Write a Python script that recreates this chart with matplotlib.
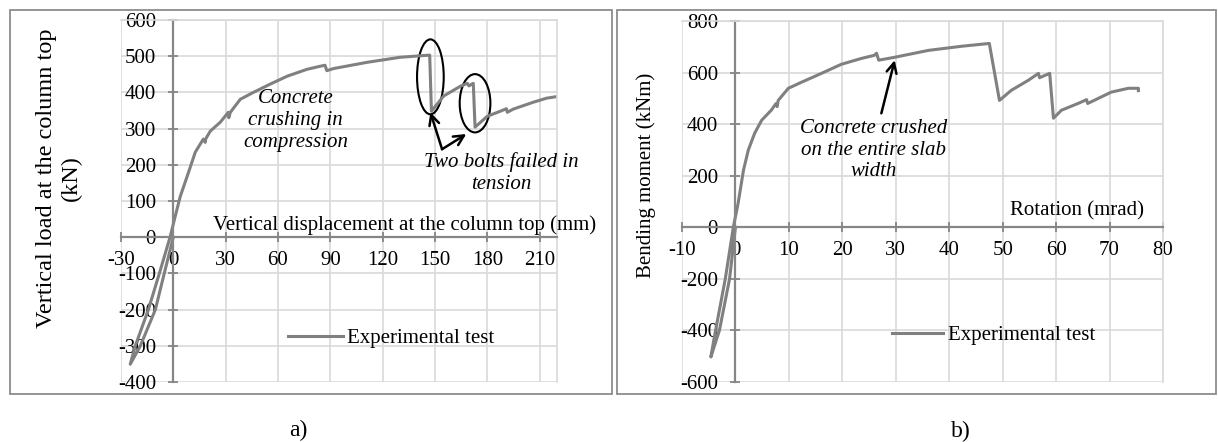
import matplotlib
matplotlib.use("Agg")
import matplotlib.pyplot as plt
from matplotlib.patches import Rectangle, Ellipse

plt.rcParams['font.family'] = ['Liberation Serif', 'DejaVu Serif']
plt.rcParams['axes.unicode_minus'] = False

# ---- data: a) vertical load vs vertical displacement ----
disp_mm = [0, -5.2, -10.3, -18.9, -24.7, -21.8, -14.3, -8.0, -1.7,
           1.1, 4.0, 8.0, 12.6, 17.2, 18.3, 18.6, 21.2, 27.0, 31.5, 31.8,
           32.7, 38.4, 45.9, 55.6, 65.4, 76.8, 84.0, 87.0, 88.0, 92.0,
           111.0, 130.0, 147.0, 148.0, 155.0, 164.6, 168.6, 169.5, 172.0,
           173.0, 180.0, 187.5, 191.0, 191.5, 195.0, 206.5, 214.0, 220.7, 221.0]
load_kN = [0, -100, -200, -300, -351, -300, -200, -100, 3,
           58, 113, 169, 235, 271, 262, 272, 293, 318, 345, 330,
           345, 381, 400, 423, 445, 464, 472, 475, 460, 466,
           483, 497, 503, 348, 390, 417, 425, 418, 425,
           304, 334, 348, 355, 345, 354, 373, 384, 389, 386]

# ---- data: b) bending moment vs rotation ----
rot_mrad = [0, -1.1, -3.0, -4.6, -3.9, -1.9, -0.4,
            0.5, 1.5, 2.4, 3.6, 4.9, 6.7, 7.6, 7.8, 8.0, 9.9, 12.3, 16.1,
            19.8, 23.6, 26.0, 26.4, 26.8, 29.7, 36.1, 42.3, 47.5, 49.4,
            51.6, 54.8, 56.7, 56.9, 58.8, 59.5, 61.0, 64.2, 65.7, 65.9,
            70.3, 73.5, 75.4, 75.4]
moment_kNm = [0, -200, -400, -503, -420, -200, 0,
              93, 221, 299, 365, 415, 454, 480, 468, 492, 539, 562, 597,
              632, 655, 667, 675, 648, 659, 686, 702, 713, 492,
              531, 570, 597, 580, 597, 423, 454, 481, 495, 480,
              524, 539, 539, 530]

series_label = "Experimental test"

W, H = 1218, 442
fig = plt.figure(figsize=(W / 100, H / 100), dpi=100)

# panel frames
for x0, x1 in [(10, 612), (617, 1216)]:
    fig.add_artist(Rectangle((x0 / W, 1 - 394 / H), (x1 - x0) / W, 384 / H,
                             transform=fig.transFigure, fill=False,
                             ec='#8c8c8c', lw=1.3))

ax1 = fig.add_axes([121 / W, 1 - 382 / H, 436 / W, 362 / H])
ax2 = fig.add_axes([682 / W, 1 - 382 / H, 481 / W, 361 / H])

line_col = '#808080'
axis_col = '#868686'
grid_col = '#d9d9d9'
FS = 15


def style(ax, xlim, ylim, xticks, yticks):
    ax.set_xlim(*xlim)
    ax.set_ylim(*ylim)
    ax.set_xticks(xticks)
    ax.set_yticks(yticks)
    ax.grid(True, color=grid_col, lw=1.2)
    ax.set_axisbelow(True)
    for s in ['top', 'right']:
        ax.spines[s].set_color(grid_col)
        ax.spines[s].set_linewidth(1.2)
    for s in ['left', 'bottom']:
        ax.spines[s].set_position(('data', 0))
        ax.spines[s].set_color(axis_col)
        ax.spines[s].set_linewidth(1.6)
    ax.tick_params(axis='both', direction='inout', length=7, width=1.3,
                   color=axis_col, labelsize=FS)
    ax.tick_params(axis='y', pad=9)
    ax.tick_params(axis='x', pad=6.5)


style(ax1, (-30, 220), (-400, 600), range(-30, 211, 30), range(-400, 601, 100))
style(ax2, (-10, 80), (-600, 800), range(-10, 81, 10), range(-600, 801, 200))

ax1.plot(disp_mm, load_kN, color=line_col, lw=2.2, label=series_label)
ax2.plot(rot_mrad, moment_kNm, color=line_col, lw=2.2, label=series_label)

# axis titles
ax1.text(22.9, 19, "Vertical displacement at the column top (mm)", fontsize=FS,
         ha='left', va='baseline', clip_on=False)
ax2.text(51.3, 46, "Rotation (mrad)", fontsize=FS, ha='left', va='baseline')
fig.text(59 / W, 1 - 178 / H, "Vertical load at the column top\n(kN)",
         rotation=90, ha='center', va='center', fontsize=17.5,
         multialignment='center')
fig.text(646 / W, 1 - 175 / H, "Bending moment (kNm)", rotation=90,
         ha='center', va='center', fontsize=FS)

# legends
ax1.legend(loc='center left', bbox_to_anchor=(0.383, 0.1215), frameon=False,
           fontsize=FS, handlelength=2.64, handletextpad=0.2, borderpad=0,
           borderaxespad=0)
ax2.legend(loc='center left', bbox_to_anchor=(0.4366, 0.130), frameon=False,
           fontsize=FS, handlelength=2.45, handletextpad=0.24, borderpad=0,
           borderaxespad=0)

# annotations, panel a)
ax1.text(70, 323, "Concrete\ncrushing in\ncompression", fontsize=FS,
         style='italic', ha='center', va='center', multialignment='center')
ax1.text(187.8, 177, "Two bolts failed in\ntension", fontsize=FS,
         style='italic', ha='center', va='center', multialignment='center',
         clip_on=False)
ax1.add_patch(Ellipse((147.4, 443), 15.3, 207, fill=False, ec='black', lw=1.5))
ax1.add_patch(Ellipse((173.0, 370), 17.6, 161, fill=False, ec='black', lw=1.5))
for tip in [(147.4, 345), (168.0, 285)]:
    ax1.annotate("", xy=tip, xytext=(154.1, 243),
                 arrowprops=dict(arrowstyle='->', lw=1.8, color='black',
                                 mutation_scale=18, shrinkA=0, shrinkB=0))

# annotations, panel b)
ax2.text(25.8, 299, "Concrete crushed\non the entire slab\nwidth", fontsize=FS,
         style='italic', ha='center', va='center', multialignment='center')
ax2.annotate("", xy=(29.8, 648), xytext=(27.3, 442),
             arrowprops=dict(arrowstyle='->', lw=1.8, color='black',
                             mutation_scale=18, shrinkA=0, shrinkB=0))

# panel captions
fig.text(298 / W, 1 - 430 / H, "a)", ha='center', va='center', fontsize=17)
fig.text(961 / W, 1 - 431 / H, "b)", ha='center', va='center', fontsize=17)

fig.savefig("out.png", dpi=100)
